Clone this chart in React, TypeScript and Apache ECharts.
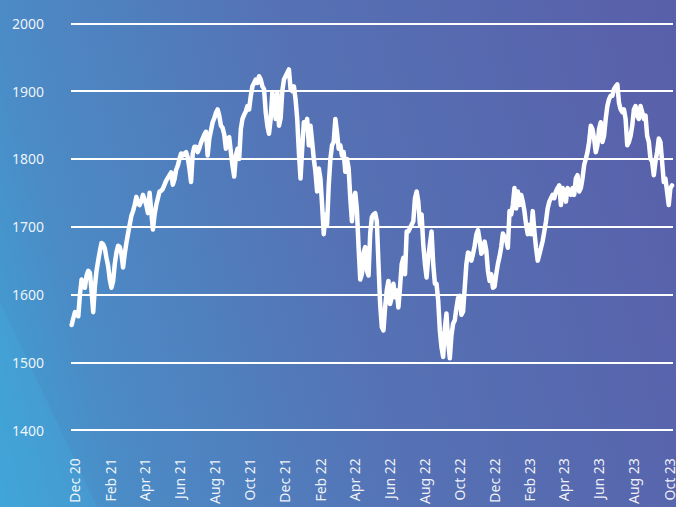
import React, { useEffect, useRef } from "react";
import * as echarts from "echarts";

// Month tick labels shown along the bottom
const tickLabels = [
  "Dec 20", "Feb 21", "Apr 21", "Jun 21", "Aug 21", "Oct 21",
  "Dec 21", "Feb 22", "Apr 22", "Jun 22", "Aug 22", "Oct 22",
  "Dec 22", "Feb 23", "Apr 23", "Jun 23", "Aug 23", "Oct 23",
];
const tickDates = [
  "2020-12-01", "2021-02-01", "2021-04-01", "2021-06-01", "2021-08-01", "2021-10-01",
  "2021-12-01", "2022-02-01", "2022-04-01", "2022-06-01", "2022-08-01", "2022-10-01",
  "2022-12-01", "2023-02-01", "2023-04-01", "2023-06-01", "2023-08-01", "2023-10-01",
];

// Sampling of the series: first observation and spacing in days
const firstObservation = "2020-11-25T05:00:00Z";
const stepDays = 2.887;

// Index values (Nov 2020 - Oct 2023)
const values2020to2021 = [
  1555, 1565, 1574, 1570, 1568, 1600, 1622, 1618, 1610, 1628,
  1635, 1632, 1605, 1574, 1612, 1635, 1650, 1664, 1676, 1674,
  1668, 1654, 1642, 1622, 1610, 1620, 1645, 1662, 1672, 1670,
  1660, 1640, 1660, 1676, 1690, 1703, 1716, 1723, 1732, 1744,
  1734, 1732, 1738, 1747, 1740, 1732, 1720, 1750, 1722, 1696,
  1718, 1732, 1742, 1752, 1753, 1756, 1762, 1768, 1772, 1776,
  1780, 1762, 1770, 1784, 1790, 1800, 1808, 1805, 1808, 1810,
  1802, 1786, 1766, 1808, 1818, 1818, 1810, 1816, 1824, 1830,
  1836, 1840, 1805,
];
const values2021to2022 = [
  1830, 1842, 1854, 1860, 1868, 1873, 1864, 1849, 1846, 1836,
  1815, 1830, 1832, 1810, 1790, 1774, 1805, 1815, 1800, 1844,
  1859, 1865, 1870, 1878, 1873, 1893, 1907, 1912, 1917, 1912,
  1922, 1917, 1907, 1903, 1869, 1849, 1837, 1859, 1898, 1883,
  1859, 1898, 1849, 1860, 1900, 1917, 1922, 1927, 1932, 1903,
  1900, 1907, 1888, 1859, 1810, 1771, 1815, 1854, 1849, 1859,
  1820, 1849, 1825, 1800, 1781, 1752, 1786, 1771, 1732, 1689,
  1718, 1703, 1761, 1800, 1820, 1825, 1859, 1839, 1815, 1820,
  1805, 1810, 1781, 1800, 1786, 1742, 1708,
];
const values2022 = [
  1742, 1750, 1725, 1670, 1622, 1630, 1662, 1670, 1635, 1628,
  1690, 1714, 1718, 1720, 1708, 1645, 1586, 1552, 1547, 1581,
  1606, 1620, 1586, 1596, 1616, 1596, 1606, 1581, 1611, 1645,
  1654, 1630, 1693, 1693, 1698, 1703, 1708, 1742, 1752, 1737,
  1703, 1718, 1674, 1645, 1625, 1654, 1674, 1693, 1645, 1616,
  1616, 1591, 1547, 1522, 1508, 1550, 1572, 1530, 1506, 1540,
  1557, 1562, 1580, 1595, 1598, 1570, 1575, 1610, 1645, 1662,
  1660, 1650, 1660, 1672, 1688, 1695, 1680, 1660, 1665, 1678,
  1665, 1635, 1620, 1630, 1610, 1612, 1630, 1645, 1656, 1670,
  1690, 1685, 1680,
];
const values2023 = [
  1669, 1723, 1718, 1732, 1757, 1727, 1752, 1732, 1747, 1737,
  1723, 1703, 1689, 1703, 1689, 1723, 1693, 1669, 1650, 1659,
  1669, 1679, 1693, 1708, 1727, 1737, 1742, 1747, 1742, 1752,
  1757, 1761, 1732, 1757, 1752, 1737, 1757, 1752, 1747, 1757,
  1747, 1771, 1776, 1752, 1757, 1771, 1791, 1800, 1810, 1825,
  1849, 1844, 1830, 1810, 1820, 1844, 1854, 1825, 1834, 1859,
  1878, 1888, 1893, 1893, 1903, 1907, 1910, 1883, 1873, 1869,
  1873, 1859, 1820, 1825, 1834, 1849, 1873, 1878, 1864, 1859,
  1878, 1869, 1859, 1864, 1834, 1825, 1800, 1796, 1776, 1796,
  1810, 1830, 1825, 1796, 1766, 1771, 1752, 1732, 1757, 1761,
];

// Axis range
const axisStart = "2020-11-24T01:40:00Z";
const axisEnd = "2023-10-07T22:00:00Z";
const yMin = 1400;
const yMax = 2000;
const yStep = 100;

const monthNames = ["Jan","Feb","Mar","Apr","May","Jun","Jul","Aug","Sep","Oct","Nov","Dec"];

export default function App() {
  const ref = useRef<HTMLDivElement>(null);
  useEffect(() => {
    if (!ref.current) return;
    const chart = echarts.init(ref.current, null, { renderer: "svg" });
    const values = [...values2020to2021, ...values2021to2022, ...values2022, ...values2023];
    const t0 = Date.parse(firstObservation);
    const dayMs = 86400000;
    const data = values.map((v, i) => [t0 + i * stepDays * dayMs, v]);
    const tickValues = tickDates.map((d) => Date.parse(d + "T00:00:00Z"));
    const labelOf = (v: number) => {
      const idx = tickValues.findIndex((t) => Math.abs(t - v) < dayMs);
      if (idx >= 0) return tickLabels[idx];
      const d = new Date(v);
      return monthNames[d.getUTCMonth()] + " " + String(d.getUTCFullYear()).slice(2);
    };
    const textColor = "rgba(255,255,255,0.92)";
    chart.setOption({
      animation: false,
      backgroundColor: "transparent",
      graphic: [
        {
          type: "polygon",
          silent: true,
          z: -1,
          shape: { points: [[0, 302], [97, 507], [0, 507]] },
          style: { fill: "rgba(70,175,228,0.28)" },
        },
      ],
      grid: { left: 71, right: 0, top: 23.3, bottom: 72.7, containLabel: false },
      xAxis: {
        type: "value",
        min: Date.parse(axisStart),
        max: Date.parse(axisEnd),
        axisLine: { show: false },
        axisTick: { show: false },
        splitLine: { show: false },
        axisLabel: {
          customValues: tickValues,
          rotate: 90,
          margin: 28,
          color: textColor,
          fontSize: 14,
          fontFamily: "Noto Sans",
          formatter: (v: number) => labelOf(v),
        },
      },
      yAxis: {
        type: "value",
        min: yMin,
        max: yMax,
        interval: yStep,
        axisLine: { show: false },
        axisTick: { show: false },
        axisLabel: {
          color: textColor,
          fontSize: 14,
          fontFamily: "Noto Sans",
          margin: 27,
          formatter: (v: number) => String(v),
        },
        splitLine: { lineStyle: { color: "#ffffff", width: 2 } },
      },
      series: [
        {
          type: "line",
          data,
          showSymbol: false,
          symbol: "none",
          lineStyle: { color: "#ffffff", width: 4.5, join: "round", cap: "round" },
          clip: true,
        },
      ],
    });
    return () => chart.dispose();
  }, []);
  return (
    <div
      style={{
        position: "absolute",
        left: 0,
        top: 0,
        width: 676,
        height: 507,
        overflow: "hidden",
        background:
          "linear-gradient(75deg, #3fa2d5 0%, #4b8bc6 16%, #5572b5 50%, #595fa9 100%)",
      }}
    >
      <div ref={ref} style={{ width: 676, height: 507 }} />
    </div>
  );
}
